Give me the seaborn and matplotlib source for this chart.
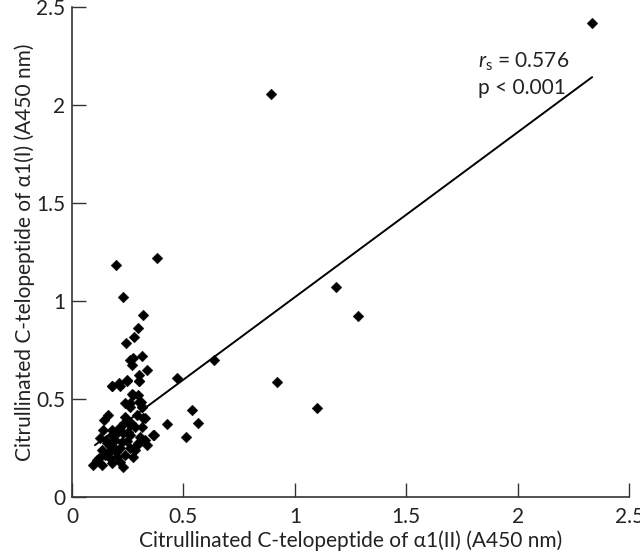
import numpy as np
import pandas as pd
import matplotlib
matplotlib.use("Agg")
import matplotlib.pyplot as plt
import seaborn as sns

# values
x_vals = [
    2.334, 0.893, 1.185, 1.284, 0.920, 1.100,
    0.637, 0.471, 0.539, 0.426, 0.566, 0.512, 0.368, 0.328, 0.328, 0.292,
    0.197, 0.382, 0.229, 0.319, 0.296, 0.278, 0.242, 0.260, 0.274, 0.314,
    0.269, 0.337, 0.301, 0.247, 0.180, 0.215, 0.301, 0.269, 0.296, 0.238,
    0.260, 0.310, 0.314,
    0.180, 0.211, 0.247, 0.301, 0.274, 0.260, 0.301, 0.314,
    0.162, 0.144, 0.238, 0.319, 0.139, 0.180, 0.215, 0.260, 0.283, 0.314,
    0.364, 0.126, 0.180, 0.229, 0.260, 0.305, 0.296, 0.337, 0.157, 0.135,
    0.184, 0.215, 0.260, 0.148, 0.112, 0.171, 0.202, 0.238, 0.274, 0.094,
    0.135, 0.180, 0.229, 0.215, 0.166, 0.197, 0.247, 0.283, 0.152, 0.193,
    0.225, 0.251, 0.120, 0.171, 0.205, 0.235, 0.265, 0.290,
]
y_vals = [
    2.418, 2.056, 1.070, 0.925, 0.587, 0.454,
    0.699, 0.607, 0.444, 0.372, 0.378, 0.306, 0.316, 0.403, 0.291, 0.265,
    1.184, 1.219, 1.020, 0.929, 0.862, 0.816, 0.786, 0.699, 0.710, 0.719,
    0.673, 0.648, 0.622, 0.597, 0.566, 0.566, 0.592, 0.526, 0.520, 0.480,
    0.459, 0.485, 0.459,
    0.566, 0.582, 0.592, 0.592, 0.520, 0.480, 0.485, 0.459,
    0.418, 0.393, 0.408, 0.403, 0.342, 0.342, 0.357, 0.367, 0.357, 0.357,
    0.316, 0.301, 0.316, 0.327, 0.316, 0.306, 0.276, 0.265, 0.276, 0.240,
    0.255, 0.250, 0.250, 0.214, 0.189, 0.199, 0.204, 0.214, 0.204, 0.163,
    0.163, 0.173, 0.153, 0.179, 0.230, 0.230, 0.285, 0.240, 0.290, 0.290,
    0.280, 0.330, 0.200, 0.260, 0.330, 0.380, 0.380, 0.420,
]

# regression line from the figure
fit_slope = 0.842
fit_intercept = 0.178
fit_range = [0.103, 2.334]

ticks = [0, 0.5, 1, 1.5, 2, 2.5]
tick_labels = ["0", "0.5", "1", "1.5", "2", "2.5"]
rs_text = r"$r_{\mathrm{s}}$ = 0.576"
p_text = "p < 0.001"

df = pd.DataFrame({"x": x_vals, "y": y_vals})
line_x = np.array(fit_range)
line_df = pd.DataFrame({"x": line_x, "y": fit_intercept + fit_slope * line_x})

sns.set_theme(style="ticks")
plt.rcParams["font.family"] = ["Lato", "DejaVu Sans"]
plt.rcParams["mathtext.fontset"] = "custom"
plt.rcParams["mathtext.it"] = "Lato:italic"
plt.rcParams["mathtext.rm"] = "Lato"

fs = 15
txt_color = "#222222"

fig = plt.figure(figsize=(6.4, 5.55), dpi=100)
ax = fig.add_axes([0.1125, 0.1045, 0.8705, 0.8825])

sns.lineplot(data=line_df, x="x", y="y", ax=ax, color="black", linewidth=1.4)
sns.scatterplot(data=df, x="x", y="y", ax=ax, marker="D", s=30,
                color="black", edgecolor="black", linewidth=0.3)

ax.set_xlim(0, 2.5)
ax.set_ylim(0, 2.5)
ax.set_xticks(ticks)
ax.set_xticklabels(tick_labels)
ax.set_yticks(ticks)
ax.set_yticklabels(tick_labels)
ax.tick_params(direction="in", length=10, width=1, labelsize=fs, pad=5,
               color="#333333", labelcolor=txt_color)
ax.tick_params(axis="x", pad=7)
sns.despine(ax=ax)
for s in ["left", "bottom"]:
    ax.spines[s].set_color("#333333")
    ax.spines[s].set_linewidth(1.2)

ax.set_xlabel("Citrullinated C-telopeptide of α1(II) (A450 nm)",
              fontsize=fs, color=txt_color, labelpad=3)
ax.set_ylabel("Citrullinated C-telopeptide of α1(I) (A450 nm)",
              fontsize=fs, color=txt_color, labelpad=1)

ax.text(1.82, 2.22, rs_text, fontsize=fs, color=txt_color, va="center")
ax.text(1.82, 2.09, p_text, fontsize=fs, color=txt_color, va="center")

fig.savefig("out.png", dpi=100)
